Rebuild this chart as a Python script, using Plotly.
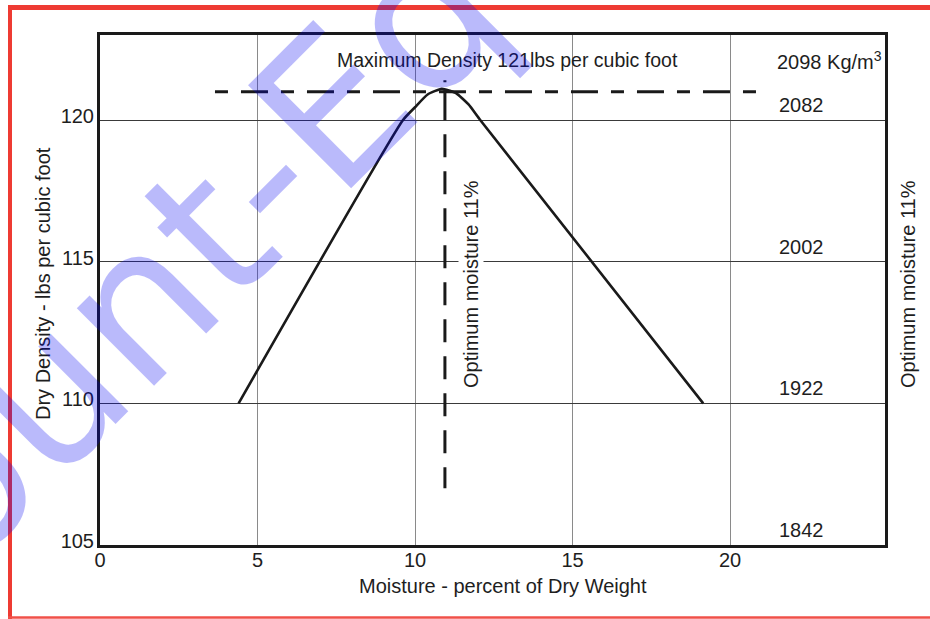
import plotly.graph_objects as go

# ---- data ----
moisture = [4.4, 9.62, 10.0, 10.4, 10.85, 11.3, 11.7, 12.07, 19.15]
density = [110, 120, 120.45, 120.9, 121.1, 120.95, 120.55, 120, 110]

max_density_line_x = [3.65, 21.0]
max_density_line_y = [121, 121]

optimum_line_x = [10.95, 10.95]
optimum_line_y = [121.4, 107.0]

x_ticks = [0, 5, 10, 15, 20]
y_ticks = [105, 110, 115, 120]
metric_labels = ["1842", "1922", "2002", "2082"]

W, H = 930, 619
ML, MR, MT, MB = 100, 45, 35, 74
PW, PH = W - ML - MR, H - MT - MB


def px(x):
    return (x - ML) / PW


def py(y):
    return (H - MB - y) / PH


FONT = "Liberation Sans, Arial, Helvetica, sans-serif"
TXT = "#1e1e1e"

fig = go.Figure()

fig.add_trace(go.Scatter(
    x=max_density_line_x, y=max_density_line_y, mode="lines",
    line=dict(color="#1a1a1a", width=3, dash="13px,13px,27px,13px"),
    hoverinfo="skip", showlegend=False))

fig.add_trace(go.Scatter(
    x=optimum_line_x, y=optimum_line_y, mode="lines",
    line=dict(color="#1a1a1a", width=3,
              dash="2px,8px,30px,14px,23px,14px,23px,14px,23px,14px,23px,14px,23px,14px,"
                   "23px,14px,23px,14px,23px,14px,23px,14px,23px,14px"),
    hoverinfo="skip", showlegend=False))

fig.add_trace(go.Scatter(
    x=moisture, y=density, mode="lines",
    line=dict(color="#1a1a1a", width=2.6, shape="spline", smoothing=0.5),
    showlegend=False))

annotations = []

# metric labels on the right
for v, lab in zip(y_ticks, metric_labels):
    annotations.append(dict(x=21.5, y=v, xref="x", yref="y", text=lab,
                            showarrow=False, xanchor="left", yanchor="bottom",
                            yshift=2, font=dict(family=FONT, size=20, color=TXT)))

annotations.append(dict(x=px(775), y=py(60), xref="paper", yref="paper",
                        text="2098 Kg/m<sup>3</sup>", showarrow=False,
                        xanchor="left", yanchor="middle",
                        font=dict(family=FONT, size=20, color=TXT)))

annotations.append(dict(x=px(507), y=py(60), xref="paper", yref="paper",
                        text="Maximum Density 121lbs per cubic foot", showarrow=False,
                        xanchor="center", yanchor="middle",
                        font=dict(family=FONT, size=19.5, color=TXT)))

annotations.append(dict(x=px(471), y=py(284), xref="paper", yref="paper",
                        text="Optimum moisture 11%", showarrow=False, textangle=-90,
                        xanchor="center", yanchor="middle", bgcolor="white",
                        font=dict(family=FONT, size=20, color=TXT)))

annotations.append(dict(x=px(908), y=py(284), xref="paper", yref="paper",
                        text="Optimum moisture 11%", showarrow=False, textangle=-90,
                        xanchor="center", yanchor="middle",
                        font=dict(family=FONT, size=20, color=TXT)))

annotations.append(dict(x=px(43), y=py(284), xref="paper", yref="paper",
                        text="Dry Density - lbs per cubic foot", showarrow=False, textangle=-90,
                        xanchor="center", yanchor="middle",
                        font=dict(family=FONT, size=20, color=TXT)))

annotations.append(dict(x=px(503), y=py(586), xref="paper", yref="paper",
                        text="Moisture - percent of Dry Weight", showarrow=False,
                        xanchor="center", yanchor="middle",
                        font=dict(family=FONT, size=20, color=TXT)))

# watermark
annotations.append(dict(x=px(142), y=py(300), xref="paper", yref="paper",
                        text="Count-Eq", showarrow=False, textangle=-45,
                        xanchor="center", yanchor="middle",
                        font=dict(family="DejaVu Sans, sans-serif", size=200,
                                  color="rgba(0,0,240,0.27)")))

red = "#ee3b33"
shapes = [
    dict(type="line", xref="paper", yref="paper", x0=px(10), x1=px(10),
         y0=py(5), y1=py(619), line=dict(color=red, width=4), layer="above"),
    dict(type="line", xref="paper", yref="paper", x0=px(8), x1=px(930),
         y0=py(7.5), y1=py(7.5), line=dict(color=red, width=5), layer="above"),
    dict(type="line", xref="paper", yref="paper", x0=px(8), x1=px(930),
         y0=py(617.5), y1=py(617.5), line=dict(color="#f05048", width=2.5), layer="above"),
]

fig.update_layout(
    width=W, height=H,
    margin=dict(l=ML, r=MR, t=MT, b=MB, pad=0),
    paper_bgcolor="white", plot_bgcolor="white",
    showlegend=False,
    annotations=annotations,
    shapes=shapes,
    xaxis=dict(range=[0, PW / 31.5], tickvals=x_ticks, ticks="",
               showgrid=True, gridcolor="#8a8a8a", gridwidth=1.3,
               zeroline=False, showline=True, linecolor="#1a1a1a", linewidth=3,
               mirror=True, ticklabelstandoff=-5,
               tickfont=dict(family=FONT, size=20, color=TXT)),
    yaxis=dict(range=[105, 123], tickvals=y_ticks, ticks="",
               showgrid=True, gridcolor="#3a3a3a", gridwidth=1.3,
               zeroline=False, showline=True, linecolor="#1a1a1a", linewidth=3,
               mirror=True, ticklabelstandoff=-1, ticklabelshift=-4,
               tickfont=dict(family=FONT, size=20, color=TXT)),
)

fig.write_html(
    "out.html",
    config={"displayModeBar": False},
    post_script="document.body.style.margin='0px';document.body.style.padding='0px';"
                "document.body.style.overflow='hidden';",
)
